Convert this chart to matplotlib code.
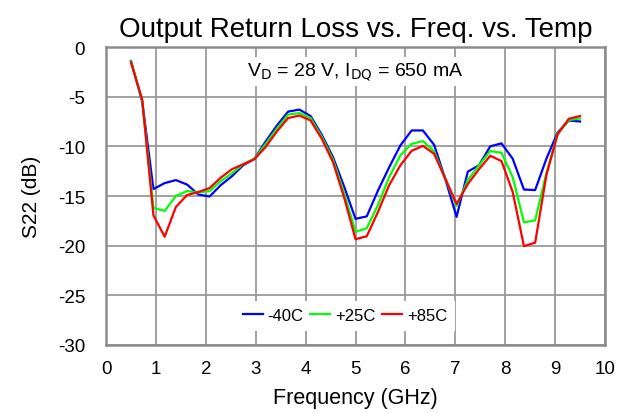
import matplotlib
matplotlib.use("Agg")
import matplotlib.pyplot as plt

plt.rcParams['font.family'] = ['Liberation Sans', 'DejaVu Sans']
plt.rcParams['axes.unicode_minus'] = False

# Frequency sweep points (GHz)
freq_ghz = [0.5, 0.725, 0.95, 1.175, 1.4, 1.625, 1.85, 2.075, 2.3, 2.525,
            2.75, 2.975, 3.2, 3.425, 3.65, 3.875, 4.1, 4.325, 4.55, 4.775,
            5.0, 5.225, 5.45, 5.675, 5.9, 6.125, 6.35, 6.575, 6.8, 7.025,
            7.25, 7.475, 7.7, 7.925, 8.15, 8.375, 8.6, 8.825, 9.05, 9.275,
            9.5]

# S22 (dB) at each temperature
s22_m40 = [-1.4, -5.5, -14.3, -13.7, -13.4, -13.85, -14.85, -15.05, -13.9, -13.0,
           -11.9, -11.25, -9.5, -7.9, -6.5, -6.3, -6.95, -8.85, -11.1, -14.1,
           -17.3, -17.05, -14.45, -12.1, -9.9, -8.4, -8.4, -9.85, -13.3, -17.1,
           -12.55, -11.9, -10.0, -9.7, -11.25, -14.35, -14.4, -11.25, -8.6, -7.4,
           -7.5]
s22_p25 = [-1.45, -5.4, -16.2, -16.5, -15.0, -14.5, -14.65, -14.5, -13.5, -12.7,
           -11.8, -11.25, -9.75, -8.2, -6.8, -6.65, -7.15, -9.05, -11.35, -14.75,
           -18.6, -18.25, -15.9, -13.1, -10.9, -9.75, -9.47, -10.5, -13.26, -16.0,
           -13.4, -11.9, -10.47, -10.65, -13.1, -17.65, -17.45, -12.7, -8.7, -7.35,
           -7.2]
s22_p85 = [-1.55, -5.3, -16.95, -19.1, -16.1, -14.9, -14.6, -14.2, -13.15, -12.3,
           -11.8, -11.3, -10.05, -8.5, -7.15, -6.9, -7.4, -9.25, -11.6, -15.2,
           -19.35, -19.05, -16.6, -13.9, -11.9, -10.45, -9.95, -10.75, -13.26, -15.8,
           -13.8, -12.3, -10.95, -11.48, -14.6, -20.05, -19.7, -12.9, -8.8, -7.22,
           -6.95]

series_labels = ['-40C', '+25C', '+85C']
series_colors = ['#0000FF', '#00FF00', '#FF0000']

x_ticks = [0, 1, 2, 3, 4, 5, 6, 7, 8, 9, 10]
y_ticks = [0, -5, -10, -15, -20, -25, -30]

fig = plt.figure(figsize=(6.33, 4.14), dpi=100)
ax = fig.add_axes([0.1675, 0.1643, 0.7883, 0.7197])

for vals, lab, col in zip([s22_m40, s22_p25, s22_p85], series_labels, series_colors):
    ax.plot(freq_ghz, vals, color=col, lw=1.6, label=lab, zorder=3)

ax.set_xlim(0, 10)
ax.set_ylim(-30, 0)
ax.set_xticks(x_ticks)
ax.set_yticks(y_ticks)
ax.set_yticklabels([str(v) for v in y_ticks])
ax.tick_params(axis='both', length=0, labelsize=13.5)
ax.tick_params(axis='x', pad=11)
ax.tick_params(axis='y', pad=15)
ax.grid(True, color='#9a9a9a', lw=1.3, zorder=1)
for sp in ax.spines.values():
    sp.set_color('#8c8c8c')
    sp.set_linewidth(1.8)

ax.set_title('Output Return Loss vs. Freq. vs. Temp', fontsize=20, pad=8)
ax.set_xlabel('Frequency (GHz)', fontsize=15.5, labelpad=7)
ax.set_ylabel('S22 (dB)', fontsize=15, labelpad=12)

ax.text(5.0, -2.45, r'V$_{\mathrm{D}}$ = 28 V, I$_{\mathrm{DQ}}$ = 650 mA',
        ha='center', va='center', fontsize=14, zorder=4,
        bbox=dict(facecolor='white', edgecolor='none', pad=3))

leg = ax.legend(loc='lower center', bbox_to_anchor=(0.479, 0.02), ncol=3,
                frameon=True, fontsize=12, handlelength=1.2, handletextpad=0.3,
                columnspacing=0.4, borderpad=0.45, fancybox=False)
leg.get_frame().set_facecolor('white')
leg.get_frame().set_edgecolor('none')
leg.get_frame().set_alpha(1.0)
leg.set_zorder(5)

fig.savefig('out.png', dpi=100)
